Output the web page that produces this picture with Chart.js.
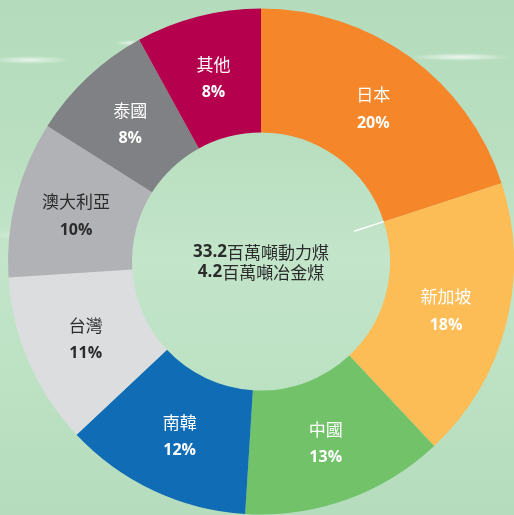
<!DOCTYPE html>
<html lang="zh-Hant">
<head>
    <meta charset="UTF-8">
    <title>煤炭出口</title>
    <style>
        html, body { margin: 0; padding: 0; }
        body {
            width: 514px;
            height: 515px;
            overflow: hidden;
            background:
                radial-gradient(ellipse 50px 4px at 460px 57px, rgba(255,255,255,0.75), rgba(255,255,255,0) 100%),
                radial-gradient(ellipse 40px 4px at 30px 60px, rgba(255,255,255,0.7), rgba(255,255,255,0) 100%),
                radial-gradient(ellipse 16px 3px at 130px 43px, rgba(255,255,255,0.6), rgba(255,255,255,0) 100%),
                radial-gradient(ellipse 30px 5px at 20px 235px, rgba(255,255,255,0.35), rgba(255,255,255,0) 100%),
                linear-gradient(180deg, #b4dcbc 0%, #b9dfc0 30%, #c3e5ca 50%, #bde2c4 70%, #b5dcbd 100%);
        }
        .chart-box { position: absolute; left: 0; top: 0; width: 514px; height: 515px; }
    </style>
</head>
<body>
    <div class="chart-box">
        <canvas id="coalChart" width="514" height="515"></canvas>
    </div>
    <script src="https://cdn.jsdelivr.net/npm/chart.js"></script>
    <script>
        const markets = ['日本', '新加坡', '中國', '南韓', '台灣', '澳大利亞', '泰國', '其他'];
        const shares = [20, 18, 13, 12, 11, 10, 8, 8];
        const sliceColors = ['#f58629', '#fdbd56', '#72c26a', '#0f6cb5', '#dcdddf', '#b1b2b5', '#808184', '#b5004e'];
        const labelColors = ['#ffffff', '#ffffff', '#ffffff', '#ffffff', '#2b2b2b', '#2b2b2b', '#ffffff', '#ffffff'];
        const centerLines = [['33.2', '百萬噸動力煤'], ['4.2', '百萬噸冶金煤']];

        const FONT_LATIN = '"Open Sans", "Noto Sans CJK TC", sans-serif';
        const FONT_CJK = '"Noto Sans CJK TC", "Noto Sans", sans-serif';

        // slice names + percentages, drawn at the middle of every arc
        const sliceLabels = {
            id: 'sliceLabels',
            afterDatasetsDraw(chart) {
                const ctx = chart.ctx;
                const arcs = chart.getDatasetMeta(0).data;
                ctx.save();
                ctx.textAlign = 'center';
                ctx.textBaseline = 'middle';
                arcs.forEach((arc, i) => {
                    const p = arc.getCenterPoint();
                    ctx.fillStyle = labelColors[i];
                    ctx.font = '17px ' + FONT_CJK;
                    ctx.fillText(markets[i], p.x, p.y - 12);
                    ctx.font = 'bold 16px ' + FONT_LATIN;
                    ctx.fillText(shares[i] + '%', p.x, p.y + 16);
                });

                // small white tick at the 日本 / 新加坡 boundary, inside the hole
                const a = arcs[1];
                const ang = a.startAngle;
                ctx.strokeStyle = '#ffffff';
                ctx.lineWidth = 1.5;
                ctx.beginPath();
                ctx.moveTo(a.x + Math.cos(ang) * (a.innerRadius - 31), a.y + Math.sin(ang) * (a.innerRadius - 31));
                ctx.lineTo(a.x + Math.cos(ang) * a.innerRadius, a.y + Math.sin(ang) * a.innerRadius);
                ctx.stroke();
                ctx.restore();
            }
        };

        // two lines of text in the hole
        const centerText = {
            id: 'centerText',
            afterDraw(chart) {
                const ctx = chart.ctx;
                const arc = chart.getDatasetMeta(0).data[0];
                ctx.save();
                ctx.textBaseline = 'middle';
                ctx.textAlign = 'left';
                ctx.fillStyle = '#2b2b2b';
                centerLines.forEach((line, i) => {
                    const y = arc.y - 9 + i * 20;
                    ctx.font = 'bold 17px ' + FONT_LATIN;
                    const w1 = ctx.measureText(line[0]).width;
                    ctx.font = '17px ' + FONT_CJK;
                    const w2 = ctx.measureText(line[1]).width;
                    let x = arc.x - (w1 + w2) / 2;
                    ctx.font = 'bold 17px ' + FONT_LATIN;
                    ctx.fillText(line[0], x, y);
                    ctx.font = '17px ' + FONT_CJK;
                    ctx.fillText(line[1], x + w1, y);
                });
                ctx.restore();
            }
        };

        new Chart(document.getElementById('coalChart'), {
            type: 'doughnut',
            data: {
                labels: markets,
                datasets: [{
                    data: shares,
                    backgroundColor: sliceColors,
                    borderWidth: 0
                }]
            },
            options: {
                responsive: false,
                animation: false,
                cutout: '51%',
                layout: { padding: { left: 8, top: 8, right: 0, bottom: 0 } },
                plugins: {
                    legend: { display: false },
                    tooltip: { enabled: false }
                }
            },
            plugins: [sliceLabels, centerText]
        });
    </script>
</body>
</html>
